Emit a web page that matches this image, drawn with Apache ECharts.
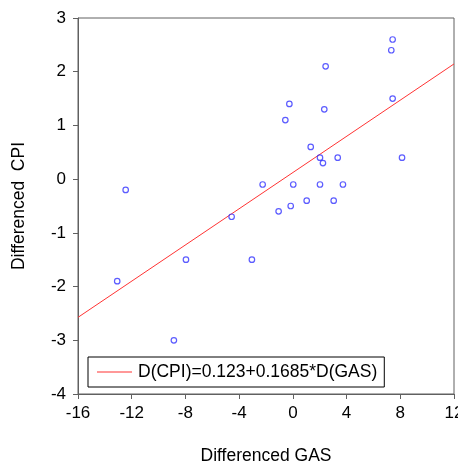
<!DOCTYPE html>
<html><head><meta charset="utf-8">
<script src="https://cdn.jsdelivr.net/npm/echarts@6/dist/echarts.min.js"></script>
<style>html,body{margin:0;padding:0;background:#fff}#c{width:458px;height:467px}</style>
</head><body><div id="c"></div>
<script>
const gasDiff = [7.43, 7.33, 2.44, -0.26, 2.34, -0.56, 7.43, 1.33, 2.02, 2.24, 3.34, 8.13, -2.25, 0.03, 2.02, 3.73, 1.03, 3.04, -12.45, -1.06, -0.16, -3.05, -4.56, -7.96, -13.08, -8.86];
const cpiDiff = [2.6, 2.4, 2.1, 1.4, 1.3, 1.1, 1.5, 0.6, 0.4, 0.3, 0.4, 0.4, -0.1, -0.1, -0.1, -0.1, -0.4, -0.4, -0.2, -0.6, -0.5, -1.5, -0.7, -1.5, -1.9, -3.0];
const intercept = 0.123;
const slope = 0.1685;
const lineX = [-16, 12];
const legendLabel = 'D(CPI)=0.123+0.1685*D(GAS)';
const xTicks = [-16, -12, -8, -4, 0, 4, 8, 12];
const yTicks = [-4, -3, -2, -1, 0, 1, 2, 3];

const points = gasDiff.map((g, i) => [g, cpiDiff[i]]);
const fitLine = lineX.map(x => [x, intercept + slope * x]);

const chart = echarts.init(document.getElementById('c'), null, {renderer: 'canvas'});
const axisCol = '#606060';
const font = 'Liberation Sans, Arial, sans-serif';
chart.setOption({
  animation: false,
  backgroundColor: '#fff',
  grid: {left: 78, right: 4, top: 18, bottom: 73, outerBoundsMode: 'none', containLabel: false,
         show: true, borderColor: axisCol, borderWidth: 1, backgroundColor: 'transparent'},
  xAxis: {
    type: 'value', min: xTicks[0], max: xTicks[xTicks.length - 1], interval: 4,
    name: 'Differenced GAS', nameLocation: 'middle', nameGap: 53,
    nameTextStyle: {color: '#000', fontSize: 17.5, fontFamily: font},
    axisLine: {show: true, onZero: false, lineStyle: {color: axisCol, width: 1}},
    axisTick: {show: true, inside: false, length: 5, lineStyle: {color: axisCol}},
    axisLabel: {color: '#000', fontSize: 17, fontFamily: font, margin: 11},
    splitLine: {show: false}
  },
  yAxis: {
    type: 'value', min: yTicks[0], max: yTicks[yTicks.length - 1], interval: 1,
    name: 'Differenced  CPI', nameLocation: 'middle', nameGap: 50,
    nameTextStyle: {color: '#000', fontSize: 17.5, fontFamily: font},
    axisLine: {show: true, onZero: false, lineStyle: {color: axisCol, width: 1}},
    axisTick: {show: true, inside: false, length: 5, lineStyle: {color: axisCol}},
    axisLabel: {color: '#000', fontSize: 17, fontFamily: font, margin: 12},
    splitLine: {show: false}
  },
  legend: {
    show: true, left: 88, top: 357, width: 299, height: 28,
    padding: [6, 7, 6, 9], itemGap: 0,
    borderColor: '#000', borderWidth: 1, backgroundColor: '#fff', borderRadius: 0,
    itemWidth: 35, itemHeight: 1,
    data: [{name: legendLabel, icon: 'rect', itemStyle: {color: '#ff3333'}}],
    textStyle: {color: '#000', fontSize: 17.5, fontFamily: font, padding: [0, 0, 0, 1]}
  },
  series: [
    {
      name: 'points', type: 'scatter', data: points, symbol: 'circle', symbolSize: 5.5,
      itemStyle: {color: 'transparent', borderColor: '#3333ff', borderWidth: 1.2}, z: 3
    },
    {
      name: legendLabel, type: 'line', data: fitLine, symbol: 'none',
      lineStyle: {color: '#ff3333', width: 1}, itemStyle: {color: '#ff3333'}, z: 2
    }
  ]
});
</script></body></html>
